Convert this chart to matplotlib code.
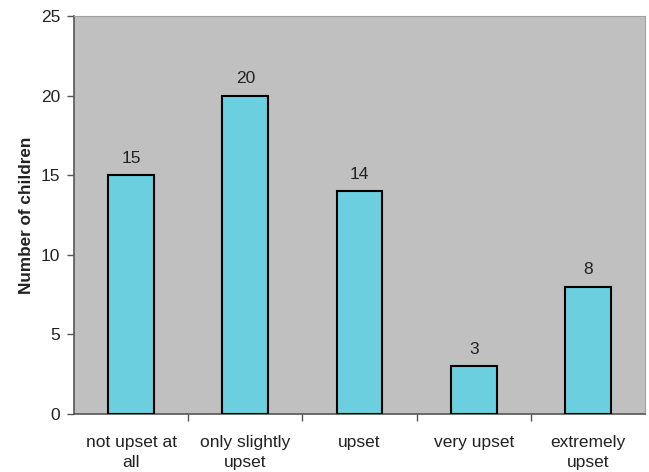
import matplotlib
matplotlib.use("Agg")
import matplotlib.pyplot as plt

categories = ["not upset at\nall", "only slightly\nupset", "upset", "very upset", "extremely\nupset"]
counts = [15, 20, 14, 3, 8]
y_ticks = [0, 5, 10, 15, 20, 25]

plt.rcParams["font.family"] = ["Liberation Sans", "DejaVu Sans"]

fig = plt.figure(figsize=(6.49, 4.72), dpi=100)
ax = fig.add_axes([0.114, 0.123, 0.880, 0.843])
ax.set_facecolor("#c0c0c0")

x = list(range(len(categories)))
bars = ax.bar(x, counts, width=0.4, color="#6ccfdf", edgecolor="black", linewidth=1.5, zorder=3)
for xi, v in zip(x, counts):
    ax.text(xi, v + 0.6, str(v), ha="center", va="bottom", fontsize=12.5, color="#222222")

ax.set_xlim(-0.5, len(categories) - 0.5)
ax.set_ylim(0, 25)
ax.set_yticks(y_ticks)
ax.set_yticklabels([str(t) for t in y_ticks], fontsize=12.5, color="#222222")
ax.set_xticks(x)
ax.set_xticklabels(categories, fontsize=12.5, color="#222222", linespacing=1.4)
ax.tick_params(axis="x", length=0, pad=15)
ax.set_xticks([i + 0.5 for i in range(len(categories) - 1)], minor=True)
ax.tick_params(axis="x", which="minor", length=5, width=1, color="#555555", direction="out")
ax.tick_params(axis="y", length=5, width=1, color="#555555", direction="out", pad=5)

ax.set_ylabel("Number of children", fontsize=12.3, fontweight="bold", color="#222222", labelpad=5)

for side in ["left", "bottom"]:
    ax.spines[side].set_color("#555555")
    ax.spines[side].set_linewidth(1.2)
for side in ["top", "right"]:
    ax.spines[side].set_color("#a0a0a0")
    ax.spines[side].set_linewidth(0.8)

fig.savefig("out.png", dpi=100)
